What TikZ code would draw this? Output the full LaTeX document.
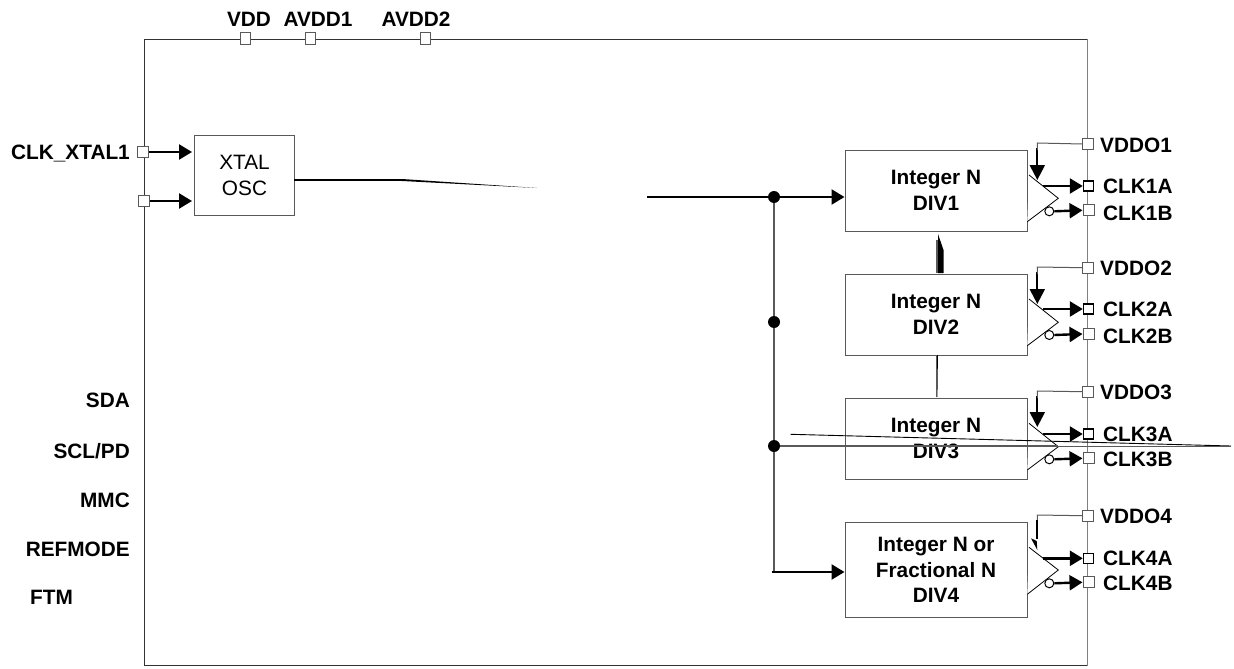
\documentclass[tikz,border=0pt]{standalone}
\usepackage{fontspec}
\setmainfont{Liberation Sans}
\usetikzlibrary{arrows.meta}
\definecolor{wire}{gray}{0.35}
\tikzset{
  x=1pt,y=-1pt,
  lbl/.style={font=\fontsize{20.8}{24}\selectfont\bfseries,inner sep=0pt,align=center,text=black},
  box/.style={draw=wire,line width=1pt,fill=white,inner sep=0pt,align=center,font=\fontsize{20.8}{25.5}\selectfont\bfseries,text=black},
  pin/.style={draw=wire,fill=white,line width=1pt,minimum width=10pt,minimum height=12pt,inner sep=0pt},
  pinb/.style={draw=black,fill=white,line width=1.4pt,minimum width=10pt,minimum height=10pt,inner sep=0pt},
  pins/.style={draw=wire,fill=white,line width=1pt,minimum width=11pt,minimum height=11pt,inner sep=0pt},
  dot/.style={circle,fill=black,minimum size=12pt,inner sep=0pt},
  bubble/.style={circle,draw=black,fill=white,line width=1pt,minimum size=9pt,inner sep=0pt},
  sig/.style={line width=2.4pt,-{Triangle[length=13pt,width=15pt]}},
  wirel/.style={draw=wire,line width=1.2pt}
}
\newcommand{\outputs}[8]{%
  % #1 id, #2 triangle top, #3 tip, #4 bottom, #5 vddo, #6 A y, #7 B y, #8 B label y
  \draw[line width=.8pt,fill=white] (1029,#2) -- (1058.3,#3) -- (1027.3,#4);
  \node[pins] (vddo#1) at (1088,#5) {};
  \node[pinb] (clk#1a) at (1088.5,#6) {};
  \node[pins] (clk#1b) at (1088.5,#7) {};
  \node[bubble] (bub#1) at (1049.3,#7+1) {};
  \node[lbl,anchor=west] at (1100,#5+1) {VDDO#1};
  \node[lbl,anchor=west] at (1103,#6+.5) {CLK#1A};
  \node[lbl,anchor=west] at (1103,#8) {CLK#1B};
  \coordinate (aout#1) at (1043,#6);
  \draw[sig] (aout#1) -- (clk#1a.west);
  \draw[sig] (bub#1.east) -- (clk#1b.west);
}
\begin{document}
\begin{tikzpicture}
\useasboundingbox (0,0) rectangle (1234,669);
\fill[white] (0,0) rectangle (1234,669);
% chip outline
\draw[line width=1pt,draw=black!80] (144,39.5) rectangle (1087.5,665.5);
\draw[line width=1.3pt,draw=black!50] (1087.5,39.5) -- (1087.5,665.5);
% top pins
\node[pin] (vdd) at (245,38.5) {};
\node[pin] (avdda) at (310,38.5) {};
\node[pin] (avddb) at (425,38.5) {};
\node[lbl,anchor=center] at (249,19) {VDD};
\node[lbl,anchor=center] at (318,19) {AVDD1};
\node[lbl,anchor=center] at (416,19) {AVDD2};
% left pins and labels
\node[pins] (xa) at (142.5,152) {};
\node[pins] (xb) at (144,201) {};
\node[lbl,anchor=east] at (130,154) {CLK\_XTAL1};
\node[lbl,anchor=east] at (130,400) {SDA};
\node[lbl,anchor=east] at (130,451) {SCL/PD};
\node[lbl,anchor=east] at (130,500) {MMC};
\node[lbl,anchor=east] at (130,549) {REFMODE};
\node[lbl,anchor=west] at (30,597) {FTM};
% oscillator
\node[draw=wire,line width=1pt,fill=white,minimum width=100pt,minimum height=80pt,inner sep=0pt,align=center,font=\fontsize{20.8}{25.5}\selectfont] (osc) at (244.5,175.5) {XTAL\\OSC};
\coordinate (oscaxl) at (192,152);
\coordinate (oscbxl) at (192,201);
\draw[sig] (xa.east) -- (oscaxl);
\draw[sig] (xb.east) -- (oscbxl);
\coordinate (oscend) at (402,180);
\draw[line width=2.2pt,black] (294,180) -- (oscend);
\fill[black] (402,179) -- (537,188) -- (402,181) -- cycle;
% dividers
\node[box,anchor=north west,minimum width=182pt,minimum height=81pt] (div1) at (844.5,149.5) {Integer N\\DIV1};
\node[box,anchor=north west,minimum width=182pt,minimum height=81pt] (div2) at (844.5,273.5) {Integer N\\DIV2};
\node[box,anchor=north west,minimum width=182pt,minimum height=81pt] (div3) at (844.5,397.5) {Integer N\\DIV3};
\node[box,anchor=north west,minimum width=182pt,minimum height=95pt] (div4) at (844.5,522) {Integer N or\\Fractional N\\DIV4};
% links between dividers
\fill[black] (938,234) -- (943.5,250) -- (943.5,273) -- (938,273) -- cycle;
\draw[wirel] (937,240) -- (937,273);
\draw[line width=.8pt,black] (937.5,355) -- (937,397);
\draw[line width=.6pt,wire] (935.8,355) -- (935.8,397);
% outputs
\outputs{1}{175}{198.3}{221.7}{144}{186}{210.3}{213}
\outputs{2}{299}{322.3}{345.7}{267.7}{309}{334}{336}
\outputs{3}{423.3}{446.7}{470}{391.7}{434}{458.3}{459}
\outputs{4}{547.3}{570}{594.3}{515.7}{558.3}{582.3}{583}
% supply wires
\coordinate (va) at (1037.3,180);
\coordinate (vb) at (1037.3,304);
\coordinate (vc) at (1037.3,427);
\draw[line width=2.2pt,-{Triangle[length=15pt,width=15pt]}] (1037.3,148) -- (va);
\draw[line width=1pt,draw=wire] (vddo1.west) -- (1037.3,143) -- (1037.3,150);
\draw[line width=2.2pt,-{Triangle[length=15pt,width=15pt]}] (1037.3,272) -- (vb);
\draw[line width=1pt,draw=wire] (vddo2.west) -- (1037.3,267) -- (1037.3,274);
\draw[line width=2.2pt,-{Triangle[length=15pt,width=15pt]}] (1037.3,396) -- (vc);
\draw[line width=1pt,draw=wire] (vddo3.west) -- (1037.3,391) -- (1037.3,398);
\draw[line width=1pt,draw=wire] (vddo4.west) -- (1037.3,515) -- (1037.3,522);
\draw[line width=1.8pt] (1037.3,520) -- (1037.3,539);
\fill[black] (1031,538.3) -- (1036.7,541) -- (1037.3,550) -- cycle;
% clock bus
\node[dot] (j1) at (774,197) {};
\node[dot] (j2) at (774,322) {};
\node[dot] (j3) at (774,446) {};
\coordinate (busstart) at (647,197);
\coordinate (busend) at (772,572);
\draw[wirel] (j1) -- (j2);
\draw[wirel] (j2) -- (j3);
\draw[wirel] (j3) -- (774,572);
\draw[sig] (busstart) -- (div1.west |- busstart);
\draw[sig] (busend) -- (div4.west |- busend);
\coordinate (tip3) at (1058.3,446);
\draw[wirel] (j3) -- (tip3);
\coordinate (sa) at (790.7,434.3);
\coordinate (sb) at (1231,446);
\draw[line width=.9pt,black] (sa) -- (sb);
\draw[line width=.7pt,wire] (tip3) -- (sb);
\end{tikzpicture}
\end{document}
